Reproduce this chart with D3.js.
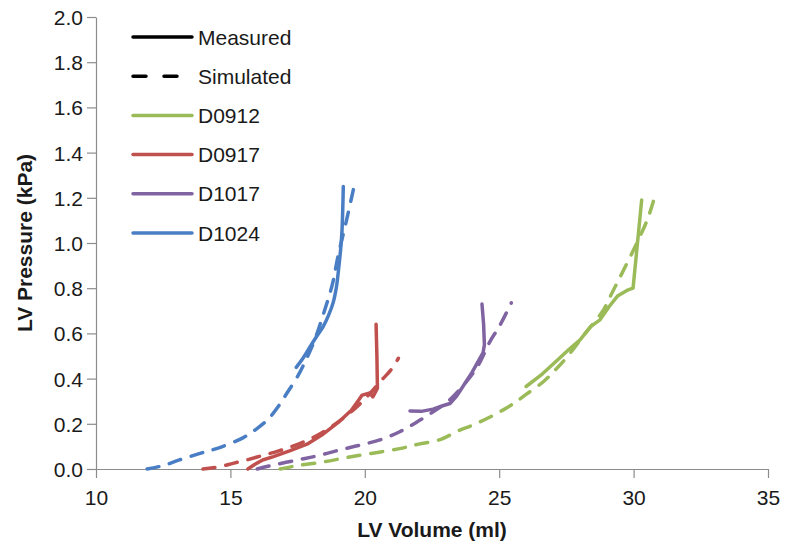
<!DOCTYPE html>
<html>
<head>
<meta charset="utf-8">
<script src="https://cdn.jsdelivr.net/npm/d3@7"></script>
<style>
  html, body { margin: 0; padding: 0; background: #fff; }
  svg { display: block; font-family: "Liberation Sans", Arial, sans-serif; }
</style>
</head>
<body>
<svg id="chart" width="787" height="549"></svg>
<script>
// ---- data (LV volume in ml, LV pressure in kPa) ----
const xTicks = [10, 15, 20, 25, 30, 35];
const yTicks = [0.0, 0.2, 0.4, 0.6, 0.8, 1.0, 1.2, 1.4, 1.6, 1.8, 2.0];
const seriesNames = ["D0912", "D0917", "D1017", "D1024"];
const seriesColors = ["#9BBB59", "#C0504D", "#8064A2", "#4A7EC4"];

const d0912Measured = [[26.0,0.365],[26.6,0.42],[27.15,0.48],[27.6,0.53],[28.0,0.57],[28.2,0.6],[28.4,0.63],[28.75,0.66],[29.1,0.72],[29.4,0.765],[29.75,0.79],[29.98,0.80],[30.3,1.19]];
const d0912Simulated = [[16.85,0],[17.5,0.015],[18.45,0.031],[19.3,0.05],[20.3,0.07],[21.3,0.09],[22.0,0.11],[22.8,0.13],[23.5,0.17],[24.03,0.195],[24.66,0.23],[25.2,0.265],[25.6,0.295],[26.0,0.33],[26.63,0.385],[27.1,0.44],[27.52,0.495],[28.2,0.6],[28.86,0.70],[29.2,0.78],[29.5,0.85],[30.0,0.97],[30.5,1.10],[30.75,1.19]];

const d0917Measured = [[15.65,0],[15.9,0.02],[16.2,0.04],[16.6,0.055],[17.2,0.08],[17.85,0.11],[18.4,0.15],[19.0,0.205],[19.5,0.26],[19.8,0.31],[19.9,0.327],[20.19,0.336],[20.3,0.319],[20.47,0.358],[20.45,0.50],[20.42,0.64]];
const d0917Simulated = [[13.98,0],[14.6,0.01],[15.1,0.025],[15.6,0.04],[16.2,0.06],[16.8,0.08],[17.4,0.105],[18.0,0.135],[18.6,0.175],[19.2,0.225],[19.7,0.275],[20.2,0.335],[20.6,0.39],[20.95,0.435],[21.25,0.49]];

const d1017Measured = [[21.68,0.257],[22.1,0.255],[22.54,0.265],[22.9,0.28],[23.17,0.29],[23.4,0.32],[23.65,0.365],[24.0,0.43],[24.4,0.515],[24.45,0.55],[24.42,0.64],[24.36,0.73]];
const d1017Simulated = [[16.0,0],[16.5,0.015],[17.5,0.04],[18.3,0.06],[19.1,0.085],[19.8,0.105],[20.6,0.13],[21.3,0.165],[21.9,0.205],[22.5,0.25],[23.1,0.3],[23.7,0.375],[24.2,0.455],[24.66,0.565],[25.0,0.63],[25.45,0.735]];

const d1024Measured = [[17.45,0.45],[17.7,0.49],[17.96,0.54],[18.2,0.585],[18.45,0.63],[18.65,0.68],[18.82,0.735],[18.95,0.81],[19.03,0.89],[19.1,0.97],[19.15,1.05],[19.18,1.15],[19.2,1.25]];
const d1024Simulated = [[11.9,0],[12.5,0.015],[13.1,0.04],[13.9,0.07],[14.6,0.095],[15.5,0.14],[16.0,0.18],[16.4,0.22],[16.8,0.28],[17.1,0.335],[17.5,0.41],[17.8,0.48],[18.1,0.56],[18.5,0.7],[18.8,0.82],[19.0,0.94],[19.3,1.09],[19.6,1.25]];

const measuredSets = [d0912Measured, d0917Measured, d1017Measured, d1024Measured];
const simulatedSets = [d0912Simulated, d0917Simulated, d1017Simulated, d1024Simulated];

// ---- layout ----
const svg = d3.select("#chart");
const mLeft = 96, mRight = 768, mTop = 17, mBottom = 469;
const x = d3.scaleLinear().domain([10, 35]).range([mLeft, mRight]);
const y = d3.scaleLinear().domain([0, 2]).range([mBottom, mTop]);
const axisColor = "#8c8c8c";
const textColor = "#1a1a1a";
const lw = 3.5;
const dash = "12,11";

// axes
const xAxis = svg.append("g").attr("transform", `translate(0,${mBottom})`)
  .call(d3.axisBottom(x).tickValues(xTicks).tickSize(9).tickSizeOuter(0).tickFormat(d3.format("d")));
const yAxis = svg.append("g").attr("transform", `translate(${mLeft},0)`)
  .call(d3.axisLeft(y).tickValues(yTicks).tickSize(9).tickSizeOuter(0).tickFormat(d3.format(".1f")));
[xAxis, yAxis].forEach(g => {
  g.select(".domain").attr("stroke", axisColor).attr("stroke-width", 1.2);
  g.selectAll(".tick line").attr("stroke", axisColor).attr("stroke-width", 1.2);
  g.selectAll(".tick text").attr("fill", textColor)
    .style("font-family", '"Liberation Sans", Arial, sans-serif').style("font-size", "21px");
});
xAxis.selectAll(".tick text").attr("dy", null).attr("y", 36);
yAxis.selectAll(".tick text").attr("dy", null).attr("x", -13).attr("y", 7.5);

// axis titles
svg.append("text").attr("x", (mLeft + mRight) / 2).attr("y", 537)
  .attr("text-anchor", "middle").attr("fill", textColor)
  .style("font-size", "21px").style("font-weight", "bold").text("LV Volume (ml)");
svg.append("text").attr("transform", `translate(32,${(mTop + mBottom) / 2}) rotate(-90)`)
  .attr("text-anchor", "middle").attr("fill", textColor)
  .style("font-size", "21px").style("font-weight", "bold").text("LV Pressure (kPa)");

// curves
const smoothLine = d3.line().x(d => x(d[0])).y(d => y(d[1])).curve(d3.curveCatmullRom.alpha(0.5));
const sharpLine = d3.line().x(d => x(d[0])).y(d => y(d[1]));
const plot = svg.append("g");
seriesNames.forEach((name, i) => {
  plot.append("path").datum(simulatedSets[i]).attr("d", smoothLine)
    .attr("fill", "none").attr("stroke", seriesColors[i]).attr("stroke-width", lw)
    .attr("stroke-dasharray", dash).attr("stroke-linecap", "round").attr("stroke-linejoin", "round");
  plot.append("path").datum(measuredSets[i]).attr("d", name === "D1024" ? smoothLine : sharpLine)
    .attr("fill", "none").attr("stroke", seriesColors[i]).attr("stroke-width", lw)
    .attr("stroke-linecap", "round").attr("stroke-linejoin", "round");
});

// legend
const legendItems = [
  {label: "Measured", color: "#000", dashed: false},
  {label: "Simulated", color: "#000", dashed: true},
  ...seriesNames.map((n, i) => ({label: n, color: seriesColors[i], dashed: false}))
];
const lg = svg.append("g");
legendItems.forEach((it, i) => {
  const ly = 37 + i * 39.2;
  const l = lg.append("line").attr("x1", 133).attr("x2", 192).attr("y1", ly).attr("y2", ly)
    .attr("stroke", it.color).attr("stroke-width", lw).attr("stroke-linecap", "round");
  if (it.dashed) l.attr("stroke-dasharray", "13,18");
  lg.append("text").attr("x", 198).attr("y", ly + 7.5).attr("fill", textColor)
    .style("font-size", "21px").text(it.label);
});
</script>
</body>
</html>
